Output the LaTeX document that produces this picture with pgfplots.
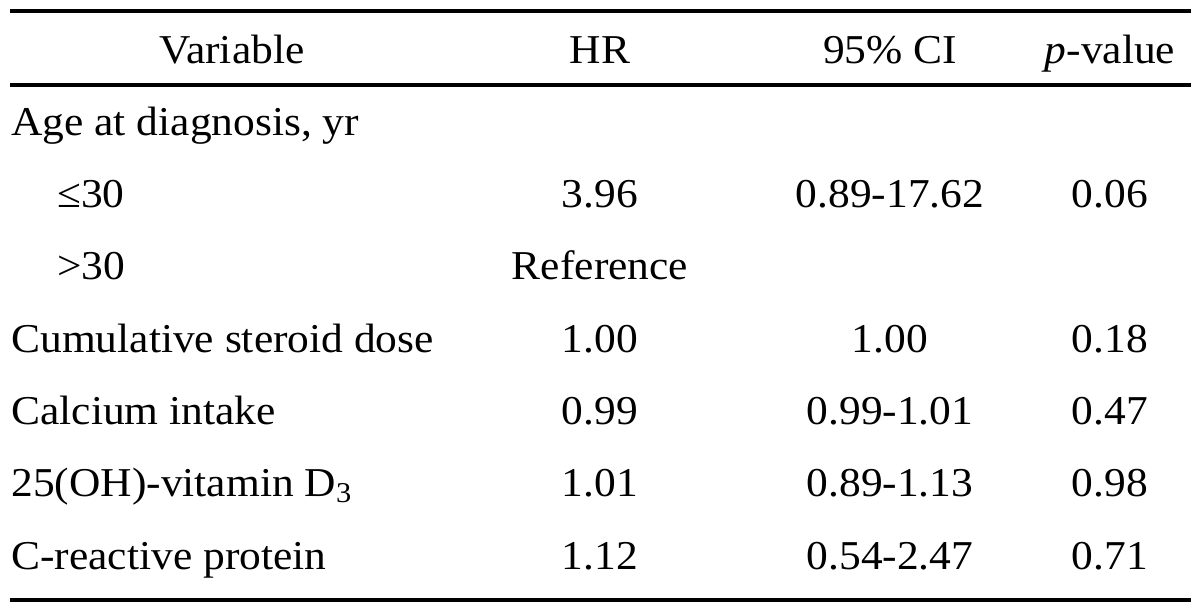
\documentclass[border=0pt]{standalone}
\usepackage{pgfplots}
\pgfplotsset{compat=1.18}
\usepackage{fontspec}
\setmainfont{Liberation Serif}[FakeStretch=1.06]
\begin{document}
\begin{tikzpicture}
\begin{axis}[
  scale only axis, width=600pt, height=305.5pt,
  xmin=0, xmax=1200, ymin=0, ymax=611, y dir=reverse,
  hide axis, clip=false,
  point meta=explicit symbolic,
  every node near coord/.append style={inner sep=0pt, font=\fontsize{20.5}{24}\selectfont, text=black},
]
% rules
\addplot[black, line width=1.75pt] coordinates {(10,11) (1191,11)};
\addplot[black, line width=1.75pt] coordinates {(10,85) (1191,85)};
\addplot[black, line width=1.75pt] coordinates {(10,600) (1191,600)};
% header (centred)
\addplot[only marks, mark=none, nodes near coords, every node near coord/.append style={anchor=base}]
 coordinates {
 (232,63) [Variable]
 (600,63) [HR]
 (890,63) [95\% CI]
 (1110,63) [\textit{p}-value]
 };
% left column
\addplot[only marks, mark=none, nodes near coords, every node near coord/.append style={anchor=base west}]
 coordinates {
 (11,135) [Age at diagnosis, yr]
 (57,207.3) [≤30]
 (57,279.7) [>30]
 (11,352) [Cumulative steroid dose]
 (11,424.3) [Calcium intake]
 (11,496.7) [25(OH)-vitamin D\textsubscript{3}]
 (11,569) [C-reactive protein]
 };
% HR
\addplot[only marks, mark=none, nodes near coords, every node near coord/.append style={anchor=base}]
 coordinates {
 (600,207.3) [3.96]
 (600,279.7) [Reference]
 (600,352) [1.00]
 (600,424.3) [0.99]
 (600,496.7) [1.01]
 (600,569) [1.12]
 };
% 95% CI
\addplot[only marks, mark=none, nodes near coords, every node near coord/.append style={anchor=base}]
 coordinates {
 (890,207.3) [0.89-17.62]
 (890,352) [1.00]
 (890,424.3) [0.99-1.01]
 (890,496.7) [0.89-1.13]
 (890,569) [0.54-2.47]
 };
% p-value
\addplot[only marks, mark=none, nodes near coords, every node near coord/.append style={anchor=base}]
 coordinates {
 (1110,207.3) [0.06]
 (1110,352) [0.18]
 (1110,424.3) [0.47]
 (1110,496.7) [0.98]
 (1110,569) [0.71]
 };
\end{axis}
\pgfresetboundingbox
\useasboundingbox (current axis.south west) rectangle (current axis.north east);
\end{tikzpicture}
\end{document}
